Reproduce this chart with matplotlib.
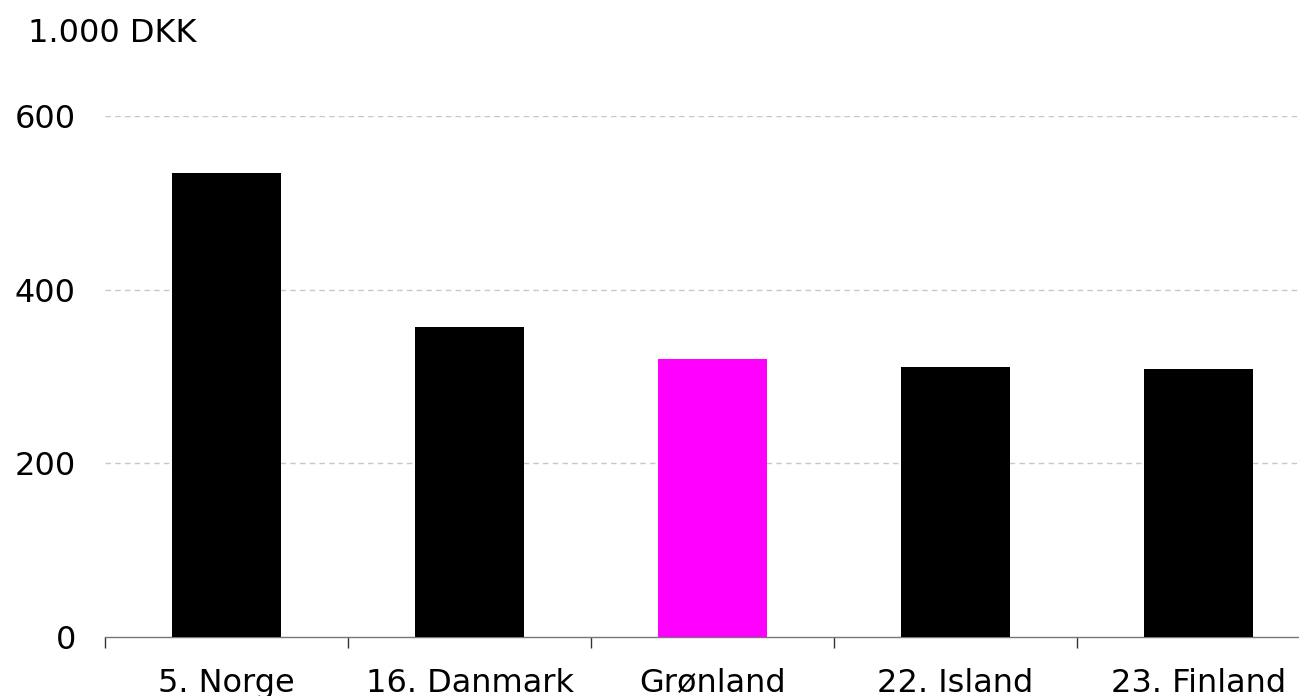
import matplotlib
matplotlib.use("Agg")
import matplotlib.pyplot as plt
import numpy as np

categories = ["5. Norge", "16. Danmark", "Grønland", "22. Island", "23. Finland"]
values = [534, 357, 320, 311, 309]
colors = ["#000000", "#000000", "#FF00FF", "#000000", "#000000"]
yticks = [0, 200, 400, 600]
unit_label = "1.000 DKK"

plt.rcParams['font.family'] = ['DejaVu Sans']
W, H = 1299, 696
fig = plt.figure(figsize=(W / 100, H / 100), dpi=100)
ax = fig.add_axes([105 / W, (H - 637) / H, (1320 - 105) / W, (637 - 116) / H])

x = np.arange(len(categories))
ax.bar(x, values, width=0.45, color=colors, zorder=3)
ax.set_xlim(-0.5, len(categories) - 0.5)
ax.set_ylim(0, 600)

ax.set_yticks(yticks)
ax.set_yticklabels([str(v) for v in yticks], fontsize=23)
ax.tick_params(axis='y', length=0, pad=21)
for v in yticks[1:]:
    ax.axhline(v, color="#c8c8c8", linestyle=(0, (4, 3)), linewidth=1, zorder=1)

ax.set_xticks(x)
ax.set_xticklabels(categories, fontsize=23)
ax.tick_params(axis='x', which='major', length=0, pad=22)
ax.set_xticks(np.arange(len(categories) + 1) - 0.5, minor=True)
ax.tick_params(axis='x', which='minor', length=8, width=1, color="#333333", direction='out')

for s in ["top", "right", "left"]:
    ax.spines[s].set_visible(False)
ax.spines["bottom"].set_color("#777777")
ax.spines["bottom"].set_linewidth(1)

fig.text(28 / W, 1 - 33 / H, unit_label, fontsize=23, va='center', ha='left')

fig.savefig("out.png", dpi=100)
